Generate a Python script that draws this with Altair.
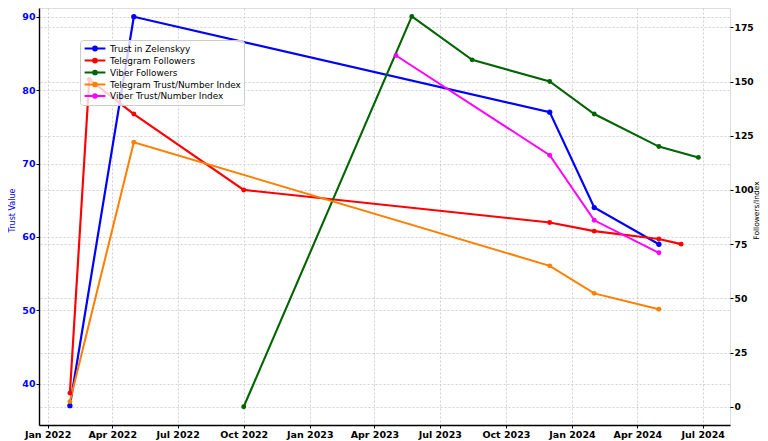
import altair as alt
import pandas as pd

# ---- data ----
series_names = ["Trust in Zelenskyy", "Telegram Followers", "Viber Followers",
                "Telegram Trust/Number Index", "Viber Trust/Number Index"]
series_colors = ["#0000ff", "#ff0000", "#006400", "#ff8000", "#ff00ff"]
series_widths = [2.2, 2.0, 1.6, 1.6, 1.2]

trust_dates = ["2022-02-01", "2022-05-01", "2023-12-01", "2024-02-01", "2024-05-01"]
trust_values = [37, 90, 77, 64, 59]

tg_followers_dates = ["2022-02-01", "2022-02-28", "2022-05-01", "2022-10-01",
                      "2023-12-01", "2024-02-01", "2024-05-01", "2024-06-01"]
tg_followers_values = [6.3, 151, 135, 100, 85, 81, 77.4, 75]

viber_followers_dates = ["2022-10-01", "2023-05-23", "2023-08-15", "2023-12-01",
                         "2024-02-01", "2024-05-01", "2024-06-25"]
viber_followers_values = [0, 180, 160, 150, 135, 120, 115]

tg_index_dates = ["2022-02-01", "2022-05-01", "2023-12-01", "2024-02-01", "2024-05-01"]
tg_index_values = [2.4, 122, 65, 52.3, 45]

viber_index_dates = ["2023-05-01", "2023-12-01", "2024-02-01", "2024-05-01"]
viber_index_values = [162, 116, 86, 71]

left_ticks = [40, 50, 60, 70, 80, 90]
right_ticks = [0, 25, 50, 75, 100, 125, 150, 175]

# ---- tables ----
left_df = pd.DataFrame({"date": trust_dates, "value": trust_values, "series": series_names[0]})
right_df = pd.concat([
    pd.DataFrame({"date": tg_followers_dates, "value": tg_followers_values, "series": series_names[1]}),
    pd.DataFrame({"date": viber_followers_dates, "value": viber_followers_values, "series": series_names[2]}),
    pd.DataFrame({"date": tg_index_dates, "value": tg_index_values, "series": series_names[3]}),
    pd.DataFrame({"date": viber_index_dates, "value": viber_index_values, "series": series_names[4]}),
], ignore_index=True)

FONT = "DejaVu Sans"
GRID = dict(grid=True, gridColor="#c4c4c4", gridDash=[2, 2], gridWidth=0.8)

x_enc = alt.X(
    "date:T",
    scale=alt.Scale(type="utc", domain=[alt.DateTime(year=2021, month=12, date=20, utc=True),
                                        alt.DateTime(year=2024, month=8, date=8, utc=True)]),
    axis=alt.Axis(title=None, tickCount=alt.TimeIntervalStep(interval="month", step=3),
                  labelExpr="utcFormat(datum.value, '%b %Y')",
                  labelFont=FONT, labelFontSize=9.5, labelFontWeight="bold", labelColor="black",
                  tickSize=3, tickColor="black", labelPadding=1,
                  domainColor="black", domainWidth=1.4, labelFlush=False, labelOverlap=False, **GRID),
)

color_enc = alt.Color(
    "series:N",
    scale=alt.Scale(domain=series_names, range=series_colors),
    legend=alt.Legend(
        orient="none", legendX=41, legendY=32, title=None,
        symbolType="M-2.6,0L2.6,0M-0.45,0a0.45,0.45 0 1,0 0.9,0a0.45,0.45 0 1,0 -0.9,0",
        symbolSize=64, symbolStrokeWidth=2, symbolOffset=6.5,
        labelFont=FONT, labelFontSize=8.9, labelColor="black", labelOffset=9.5,
        fillColor="rgba(255,255,255,0.8)", strokeColor="#cccccc", cornerRadius=3,
        padding=3, rowPadding=-1.1,
    ),
)
color_nolegend = alt.Color("series:N", scale=alt.Scale(domain=series_names, range=series_colors), legend=None)
width_enc = alt.StrokeWidth("series:N", scale=alt.Scale(domain=series_names, range=series_widths), legend=None)

y_left = alt.Y(
    "value:Q",
    scale=alt.Scale(domain=[34.37, 91.19], nice=False, zero=False),
    axis=alt.Axis(title="Trust Value", orient="left", values=left_ticks,
                  labelFont=FONT, labelFontSize=9.5, labelFontWeight="bold", labelColor="#0000ff",
                  titleFont=FONT, titleFontSize=8, titleFontWeight="normal", titleColor="#0000ff",
                  titleX=-27, titleY=202, titleAngle=270, titleAlign="center", titleBaseline="middle",
                  tickSize=3, tickColor="black", labelPadding=1,
                  domainColor="black", domainWidth=1.4, **GRID),
)
y_right = alt.Y(
    "value:Q",
    scale=alt.Scale(domain=[-8.4, 183.9], nice=False, zero=False),
    axis=alt.Axis(title="Followers/Index", orient="right", values=right_ticks,
                  labelFont=FONT, labelFontSize=9.2, labelFontWeight="bold", labelColor="black",
                  titleFont=FONT, titleFontSize=7.5, titleFontWeight="normal", titleColor="black",
                  titleX=26.5, titleY=202, titleAngle=270, titleAlign="center", titleBaseline="middle",
                  tickSize=3, tickColor="black", labelPadding=1,
                  domain=False, **GRID),
)

left_line = alt.Chart(left_df).mark_line().encode(x=x_enc, y=y_left, color=color_enc, strokeWidth=width_enc)
left_pts = alt.Chart(left_df).mark_point(filled=True, opacity=1, size=28).encode(
    x=x_enc, y=y_left, color=color_nolegend)
right_line = alt.Chart(right_df).mark_line().encode(x=x_enc, y=y_right, color=color_enc, strokeWidth=width_enc)
right_pts = alt.Chart(right_df).mark_point(filled=True, opacity=1, size=24).encode(
    x=x_enc, y=y_right, color=color_nolegend)

left = alt.layer(left_line, left_pts)
right = alt.layer(right_line, right_pts)

chart = alt.layer(left, right).resolve_scale(y="independent").properties(
    width=691, height=417,
    autosize=alt.AutoSizeParams(type="none"),
    padding={"left": 31, "top": 0, "right": 30, "bottom": 16},
).configure_view(stroke=None).configure(background="white")

chart.save("out.html", embed_options={"renderer": "svg", "actions": False})
